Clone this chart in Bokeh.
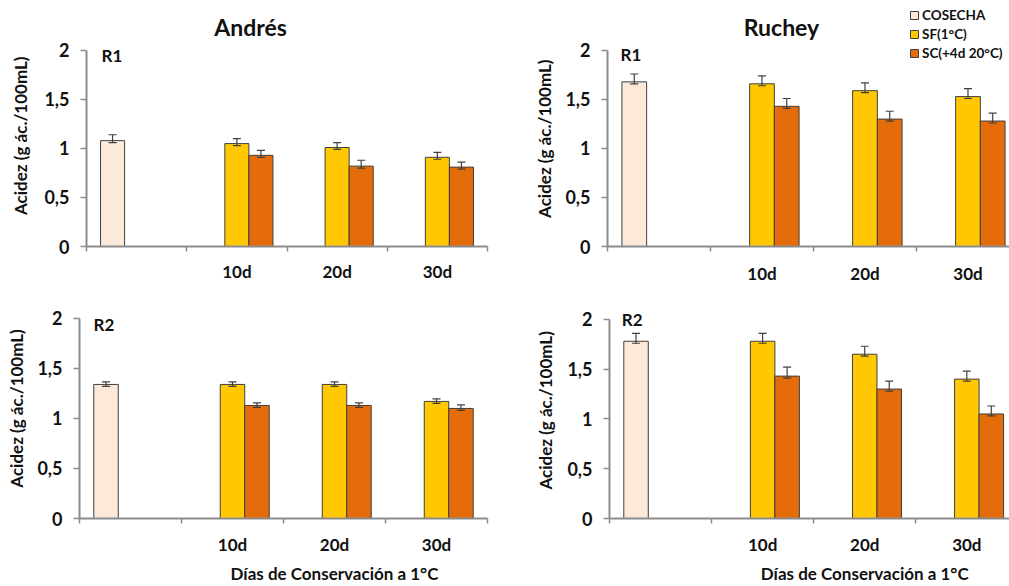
from bokeh.plotting import figure
from bokeh.layouts import column, row
from bokeh.models import (Range1d, FixedTicker, ColumnDataSource, Whisker, TeeHead,
                          Label, Legend, LegendItem, LinearAxis)
from bokeh.embed import file_html
from bokeh.resources import INLINE

# ---------------- data ----------------
CATEGORIES = ["", "10d", "20d", "30d"]
SERIES = ["COSECHA", "SF(1°C)", "SC(+4d 20°C)"]
Y_TICKS = [0, 0.5, 1, 1.5, 2]
Y_TICK_LABELS = ["0", "0,5", "1", "1,5", "2"]
VARIETIES = ["Andrés", "Ruchey"]
ROUNDS = ["R1", "R2"]
Y_LABEL = "Acidez (g ác./100mL)"
X_LABEL = "Días de Conservación a 1°C"

# Andrés R1
andres_r1_cosecha = [1.08]
andres_r1_cosecha_err = [0.06]
andres_r1_sf = [1.05, 1.01, 0.91]
andres_r1_sf_err = [0.05, 0.05, 0.05]
andres_r1_sc = [0.93, 0.82, 0.81]
andres_r1_sc_err = [0.05, 0.06, 0.05]

# Ruchey R1
ruchey_r1_cosecha = [1.68]
ruchey_r1_cosecha_err = [0.08]
ruchey_r1_sf = [1.66, 1.59, 1.53]
ruchey_r1_sf_err = [0.08, 0.08, 0.08]
ruchey_r1_sc = [1.43, 1.30, 1.28]
ruchey_r1_sc_err = [0.08, 0.08, 0.08]

# Andrés R2
andres_r2_cosecha = [1.34]
andres_r2_cosecha_err = [0.025]
andres_r2_sf = [1.34, 1.34, 1.17]
andres_r2_sf_err = [0.025, 0.025, 0.025]
andres_r2_sc = [1.13, 1.13, 1.10]
andres_r2_sc_err = [0.025, 0.025, 0.035]

# Ruchey R2
ruchey_r2_cosecha = [1.78]
ruchey_r2_cosecha_err = [0.08]
ruchey_r2_sf = [1.78, 1.65, 1.40]
ruchey_r2_sf_err = [0.08, 0.08, 0.08]
ruchey_r2_sc = [1.43, 1.30, 1.05]
ruchey_r2_sc_err = [0.09, 0.08, 0.08]

ERR_LOW = 0.02  # lower whisker (mostly hidden by the bar)

# ---------------- style ----------------
FONT = "Lato"
TXT = "#111111"
COLORS = ["#FDE9D9", "#FFC800", "#E46C0A"]
OUTLINE = "#3f3f3f"
AXIS_COLOR = "#8c8c8c"
BAR_W = 0.24


def make_panel(cos, cos_err, sf, sf_err, sc, sc_err, width, height, borders, x_end, y_end,
               rlabel, rpos, ylab_y, ylab_standoff, xtick_standoff, title=None,
               title_pos=None, xlabel=False, legend=False):
    bl, br, bt, bb = borders
    p = figure(width=width, height=height, output_backend="svg", toolbar_location=None,
               x_range=Range1d(0, x_end), y_range=Range1d(0, y_end),
               min_border_left=bl, min_border_right=br, min_border_top=bt,
               min_border_bottom=bb)
    p.outline_line_color = None
    p.xgrid.visible = False
    p.ygrid.visible = False

    xs_cos = [0.5 - BAR_W]
    xs_sf = [i + 0.5 for i in range(1, len(CATEGORIES))]
    xs_sc = [i + 0.5 + BAR_W for i in range(1, len(CATEGORIES))]

    renderers = []
    for xs, vals, errs, color in ((xs_cos, cos, cos_err, COLORS[0]),
                                  (xs_sf, sf, sf_err, COLORS[1]),
                                  (xs_sc, sc, sc_err, COLORS[2])):
        src = ColumnDataSource(dict(x=xs, top=vals,
                                    upper=[v + e for v, e in zip(vals, errs)],
                                    lower=[v - ERR_LOW for v in vals]))
        r = p.vbar(x="x", top="top", width=BAR_W, bottom=0, source=src,
                   fill_color=color, line_color=OUTLINE, line_width=1)
        renderers.append(r)
        w = Whisker(source=src, base="x", upper="upper", lower="lower",
                    line_color="#404040", line_width=1.2, level="overlay",
                    upper_head=TeeHead(size=8, line_color="#404040", line_width=1.2),
                    lower_head=TeeHead(size=8, line_color="#404040", line_width=1.2))
        p.add_layout(w)

    # y axis (bounded to 0..2, frame extends above for titles / legend)
    ya = p.yaxis[0]
    ya.bounds = (Y_TICKS[0], Y_TICKS[-1])
    ya.ticker = FixedTicker(ticks=Y_TICKS, minor_ticks=[])
    ya.major_label_overrides = dict(zip(Y_TICKS, Y_TICK_LABELS))
    ya.axis_line_color = AXIS_COLOR
    ya.axis_line_width = 2
    ya.major_tick_line_color = AXIS_COLOR
    ya.major_tick_line_width = 1.5
    ya.major_tick_in = 0
    ya.major_tick_out = 6
    ya.major_label_standoff = 11
    ya.major_label_text_font = FONT
    ya.major_label_text_font_style = "bold"
    ya.major_label_text_font_size = "18px"
    ya.major_label_text_color = TXT

    # y axis title as an extra axis with one labelled tick
    yl = LinearAxis(ticker=FixedTicker(ticks=[ylab_y], minor_ticks=[]),
                    major_label_overrides={ylab_y: Y_LABEL},
                    axis_line_color=None, major_tick_line_color=None,
                    minor_tick_line_color=None, major_tick_in=0, major_tick_out=0,
                    major_label_orientation="vertical", major_label_standoff=ylab_standoff,
                    major_label_text_font=FONT, major_label_text_font_style="bold",
                    major_label_text_font_size="17px", major_label_text_color=TXT)
    p.add_layout(yl, "left")

    # x axis: labels at category centres, ticks at boundaries
    centers = [i + 0.5 for i, c in enumerate(CATEGORIES) if c]
    labels = [c for c in CATEGORIES if c]
    xa = p.xaxis[0]
    xa.ticker = FixedTicker(ticks=centers, minor_ticks=list(range(len(CATEGORIES) + 1)))
    xa.major_label_overrides = dict(zip(centers, labels))
    xa.axis_line_color = AXIS_COLOR
    xa.axis_line_width = 2
    xa.major_tick_line_color = None
    xa.major_tick_in = 0
    xa.major_tick_out = 0
    xa.minor_tick_line_color = AXIS_COLOR
    xa.minor_tick_line_width = 1.5
    xa.minor_tick_in = 0
    xa.minor_tick_out = 5
    xa.major_label_standoff = xtick_standoff
    xa.major_label_text_font = FONT
    xa.major_label_text_font_style = "bold"
    xa.major_label_text_font_size = "17px"
    xa.major_label_text_color = TXT

    if xlabel:
        mid = (len(CATEGORIES) + 1) / 2
        xl = LinearAxis(ticker=FixedTicker(ticks=[mid], minor_ticks=[]),
                        major_label_overrides={mid: X_LABEL},
                        axis_line_color=None, major_tick_line_color=None,
                        minor_tick_line_color=None, major_tick_in=0, major_tick_out=0,
                        major_label_standoff=5,
                        major_label_text_font=FONT, major_label_text_font_style="bold",
                        major_label_text_font_size="17px", major_label_text_color=TXT)
        p.add_layout(xl, "below")

    p.add_layout(Label(x=rpos[0], y=rpos[1], text=rlabel, text_font=FONT,
                       text_font_style="bold", text_font_size="17px",
                       text_color=TXT, text_baseline="middle", text_align="left"))
    if title:
        p.add_layout(Label(x=title_pos[0], y=title_pos[1], text=title, text_font=FONT,
                           text_font_style="bold", text_font_size="23px",
                           text_color=TXT, text_baseline="middle", text_align="center"))
    if legend:
        items = [LegendItem(label=s, renderers=[r]) for s, r in zip(SERIES, renderers)]
        lg = Legend(items=items, location=(302, 185), glyph_width=10, glyph_height=10,
                    label_height=16, spacing=3, label_standoff=3, padding=0, margin=0,
                    border_line_color=None, background_fill_alpha=0,
                    label_text_font=FONT, label_text_font_style="bold",
                    label_text_font_size="13.5px", label_text_color=TXT)
        p.add_layout(lg)
    return p


p1 = make_panel(andres_r1_cosecha, andres_r1_cosecha_err, andres_r1_sf, andres_r1_sf_err,
                andres_r1_sc, andres_r1_sc_err, 500, 290, (86, 13, 0, 44), 4, 2.510,
                ROUNDS[0], (0.15, 1.949), 1.13, 10, 9,
                title=VARIETIES[0], title_pos=(1.636, 2.235))
p2 = make_panel(ruchey_r1_cosecha, ruchey_r1_cosecha_err, ruchey_r1_sf, ruchey_r1_sf_err,
                ruchey_r1_sc, ruchey_r1_sc_err, 509, 290, (107, 0, 0, 39), 3.903, 2.51,
                ROUNDS[0], (0.126, 1.96), 1.10, 7, 11,
                title=VARIETIES[1], title_pos=(1.689, 2.24), legend=True)
p3 = make_panel(andres_r2_cosecha, andres_r2_cosecha_err, andres_r2_sf, andres_r2_sf_err,
                andres_r2_sc, andres_r2_sc_err, 500, 296, (79, 13, 0, 67), 4, 2.279,
                ROUNDS[1], (0.137, 1.944), 1.10, 7, 10, xlabel=True)
p4 = make_panel(ruchey_r2_cosecha, ruchey_r2_cosecha_err, ruchey_r2_sf, ruchey_r2_sf_err,
                ruchey_r2_sc, ruchey_r2_sc_err, 509, 296, (109, 0, 0, 67), 3.918, 2.29,
                ROUNDS[1], (0.12, 2.0), 1.086, 8, 10, xlabel=True)

layout = column(row(p1, p2), row(p3, p4))
open("out.html", "w").write(file_html(layout, INLINE))
